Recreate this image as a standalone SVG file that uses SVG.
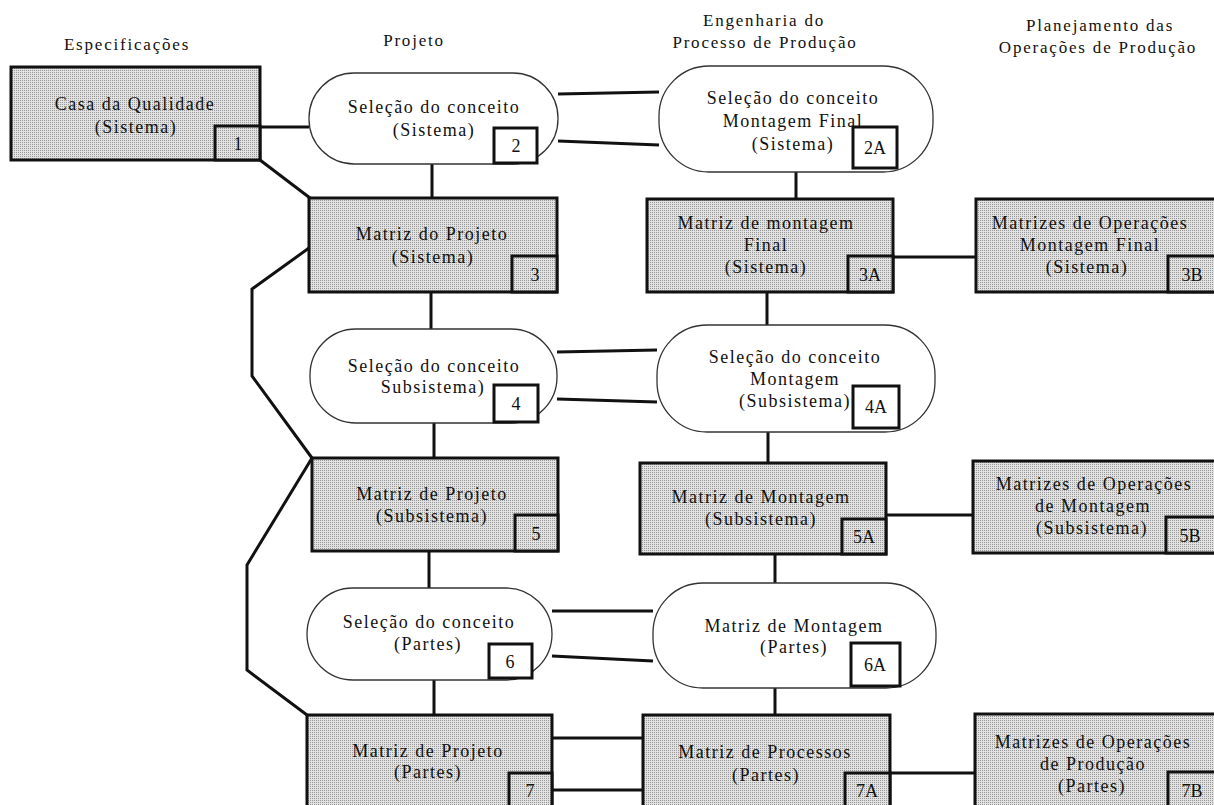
<svg xmlns="http://www.w3.org/2000/svg" width="1214" height="805" viewBox="0 0 1214 805">
<defs>
<pattern id="dots" width="2" height="2" patternUnits="userSpaceOnUse">
<rect width="2" height="2" fill="#e2e2e2"/>
<rect width="1" height="1" fill="#979797"/>
</pattern>
</defs>
<style>
text{font-family:"Liberation Serif","Times New Roman",serif;fill:#111;}
.hd{font-size:17px;letter-spacing:1.8px;text-anchor:middle;}
.t{font-size:18px;letter-spacing:1.5px;text-anchor:middle;}
.n{font-size:18px;text-anchor:middle;}
.box{fill:url(#dots);stroke:#111;stroke-width:3;}
.pill{fill:#fff;stroke:#333;stroke-width:1.3;}
.sq{fill:#fff;stroke:#111;stroke-width:3;}
.sqg{fill:url(#dots);stroke:#111;stroke-width:3;}
.c{fill:none;stroke:#111;stroke-width:3;stroke-linejoin:miter;}
</style>
<rect width="1214" height="805" fill="#fff"/>

<g id="headers">
<text class="hd" x="127" y="50">Especificações</text>
<text class="hd" x="414" y="46">Projeto</text>
<text class="hd" x="764" y="26">Engenharia do</text>
<text class="hd" x="765" y="48">Processo de Produção</text>
<text class="hd" x="1100" y="31">Planejamento das</text>
<text class="hd" x="1098" y="53">Operações de Produção</text>
</g>

<g id="connectors">
<line class="c" x1="260" y1="127" x2="309" y2="127"/>
<line class="c" x1="260" y1="160" x2="310" y2="198"/>
<line class="c" x1="558" y1="94" x2="659" y2="92"/>
<line class="c" x1="558" y1="141" x2="659" y2="145"/>
<line class="c" x1="432" y1="164" x2="432" y2="198"/>
<line class="c" x1="796" y1="172" x2="796" y2="199"/>
<line class="c" x1="893" y1="257" x2="976" y2="257"/>
<line class="c" x1="431" y1="292" x2="431" y2="329"/>
<line class="c" x1="767" y1="292" x2="767" y2="325"/>
<line class="c" x1="557" y1="352" x2="657" y2="350"/>
<line class="c" x1="557" y1="399" x2="657" y2="402"/>
<line class="c" x1="434" y1="423" x2="434" y2="458"/>
<line class="c" x1="768" y1="432" x2="768" y2="463"/>
<line class="c" x1="886" y1="515" x2="973" y2="515"/>
<line class="c" x1="429" y1="551" x2="429" y2="588"/>
<line class="c" x1="775" y1="554" x2="775" y2="583"/>
<line class="c" x1="552" y1="611" x2="653" y2="611"/>
<line class="c" x1="552" y1="656" x2="653" y2="661"/>
<line class="c" x1="434" y1="680" x2="434" y2="715"/>
<line class="c" x1="775" y1="688" x2="775" y2="715"/>
<line class="c" x1="552" y1="738" x2="643" y2="738"/>
<line class="c" x1="552" y1="790" x2="643" y2="790"/>
<line class="c" x1="890" y1="773" x2="975" y2="773"/>
<polyline class="c" points="309,248 252,289 252,376 312,458"/>
<polyline class="c" points="312,458 247,565 247,670 307,715"/>
</g>

<g id="n1">
<rect class="box" x="11" y="67" width="249" height="93"/>
<text class="t" x="135" y="110">Casa da Qualidade</text>
<text class="t" x="136" y="133">(Sistema)</text>
<rect class="sqg" x="215" y="126" width="45" height="34"/>
<text class="n" x="238" y="150">1</text>
</g>

<g id="n2">
<rect class="pill" x="309" y="73" width="249" height="91" rx="45" ry="45"/>
<text class="t" x="434" y="113">Seleção do conceito</text>
<text class="t" x="434" y="136">(Sistema)</text>
<rect class="sq" x="494" y="128" width="43" height="35"/>
<text class="n" x="516" y="152">2</text>
</g>

<g id="n2A">
<rect class="pill" x="659" y="66" width="274" height="106" rx="50" ry="50"/>
<text class="t" x="793" y="104">Seleção do conceito</text>
<text class="t" x="793" y="127">Montagem Final</text>
<text class="t" x="793" y="150">(Sistema)</text>
<rect class="sq" x="853" y="127" width="44" height="41"/>
<text class="n" x="875" y="154">2A</text>
</g>

<g id="n3">
<rect class="box" x="309" y="198" width="248" height="94"/>
<text class="t" x="432" y="240">Matriz do Projeto</text>
<text class="t" x="433" y="263">(Sistema)</text>
<rect class="sqg" x="512" y="256" width="45" height="36"/>
<text class="n" x="535" y="281">3</text>
</g>

<g id="n3A">
<rect class="box" x="647" y="199" width="246" height="93"/>
<text class="t" x="766" y="229">Matriz de montagem</text>
<text class="t" x="766" y="251">Final</text>
<text class="t" x="766" y="273">(Sistema)</text>
<rect class="sqg" x="848" y="256" width="45" height="36"/>
<text class="n" x="870" y="281">3A</text>
</g>

<g id="n3B">
<rect class="box" x="976" y="199" width="244" height="93"/>
<text class="t" x="1090" y="229">Matrizes de Operações</text>
<text class="t" x="1090" y="251">Montagem Final</text>
<text class="t" x="1087" y="273">(Sistema)</text>
<rect class="sqg" x="1168" y="256" width="52" height="36"/>
<text class="n" x="1192" y="281">3B</text>
</g>

<g id="n4">
<rect class="pill" x="310" y="329" width="247" height="94" rx="46" ry="46"/>
<text class="t" x="434" y="372">Seleção do conceito</text>
<text class="t" x="433" y="393">Subsistema)</text>
<rect class="sq" x="494" y="385" width="44" height="37"/>
<text class="n" x="516" y="410">4</text>
</g>

<g id="n4A">
<rect class="pill" x="657" y="325" width="278" height="107" rx="50" ry="50"/>
<text class="t" x="795" y="363">Seleção do conceito</text>
<text class="t" x="795" y="385">Montagem</text>
<text class="t" x="795" y="407">(Subsistema)</text>
<rect class="sq" x="853" y="386" width="46" height="42"/>
<text class="n" x="876" y="413">4A</text>
</g>

<g id="n5">
<rect class="box" x="312" y="458" width="246" height="93"/>
<text class="t" x="432" y="500">Matriz de Projeto</text>
<text class="t" x="432" y="522">(Subsistema)</text>
<rect class="sqg" x="515" y="515" width="43" height="36"/>
<text class="n" x="536" y="540">5</text>
</g>

<g id="n5A">
<rect class="box" x="640" y="463" width="246" height="91"/>
<text class="t" x="761" y="503">Matriz de Montagem</text>
<text class="t" x="761" y="525">(Subsistema)</text>
<rect class="sqg" x="842" y="519" width="44" height="35"/>
<text class="n" x="864" y="543">5A</text>
</g>

<g id="n5B">
<rect class="box" x="973" y="461" width="247" height="92"/>
<text class="t" x="1094" y="490">Matrizes de Operações</text>
<text class="t" x="1093" y="512">de Montagem</text>
<text class="t" x="1092" y="534">(Subsistema)</text>
<rect class="sqg" x="1166" y="517" width="54" height="36"/>
<text class="n" x="1190" y="542">5B</text>
</g>

<g id="n6">
<rect class="pill" x="307" y="588" width="245" height="92" rx="46" ry="46"/>
<text class="t" x="429" y="628">Seleção do conceito</text>
<text class="t" x="428" y="650">(Partes)</text>
<rect class="sq" x="489" y="644" width="43" height="34"/>
<text class="n" x="510" y="668">6</text>
</g>

<g id="n6A">
<rect class="pill" x="653" y="583" width="283" height="105" rx="50" ry="50"/>
<text class="t" x="794" y="632">Matriz de Montagem</text>
<text class="t" x="794" y="653">(Partes)</text>
<rect class="sq" x="851" y="643" width="49" height="43"/>
<text class="n" x="875" y="671">6A</text>
</g>

<g id="n7">
<rect class="box" x="307" y="715" width="245" height="100"/>
<text class="t" x="428" y="757">Matriz de Projeto</text>
<text class="t" x="428" y="778">(Partes)</text>
<rect class="sqg" x="509" y="773" width="43" height="42"/>
<text class="n" x="530" y="797">7</text>
</g>

<g id="n7A">
<rect class="box" x="643" y="715" width="247" height="100"/>
<text class="t" x="765" y="758">Matriz de Processos</text>
<text class="t" x="766" y="781">(Partes)</text>
<rect class="sqg" x="845" y="773" width="45" height="42"/>
<text class="n" x="867" y="797">7A</text>
</g>

<g id="n7B">
<rect class="box" x="975" y="714" width="245" height="101"/>
<text class="t" x="1093" y="748">Matrizes de Operações</text>
<text class="t" x="1093" y="770">de Produção</text>
<text class="t" x="1092" y="792">(Partes)</text>
<rect class="sqg" x="1168" y="772" width="52" height="43"/>
<text class="n" x="1192" y="797">7B</text>
</g>
</svg>
